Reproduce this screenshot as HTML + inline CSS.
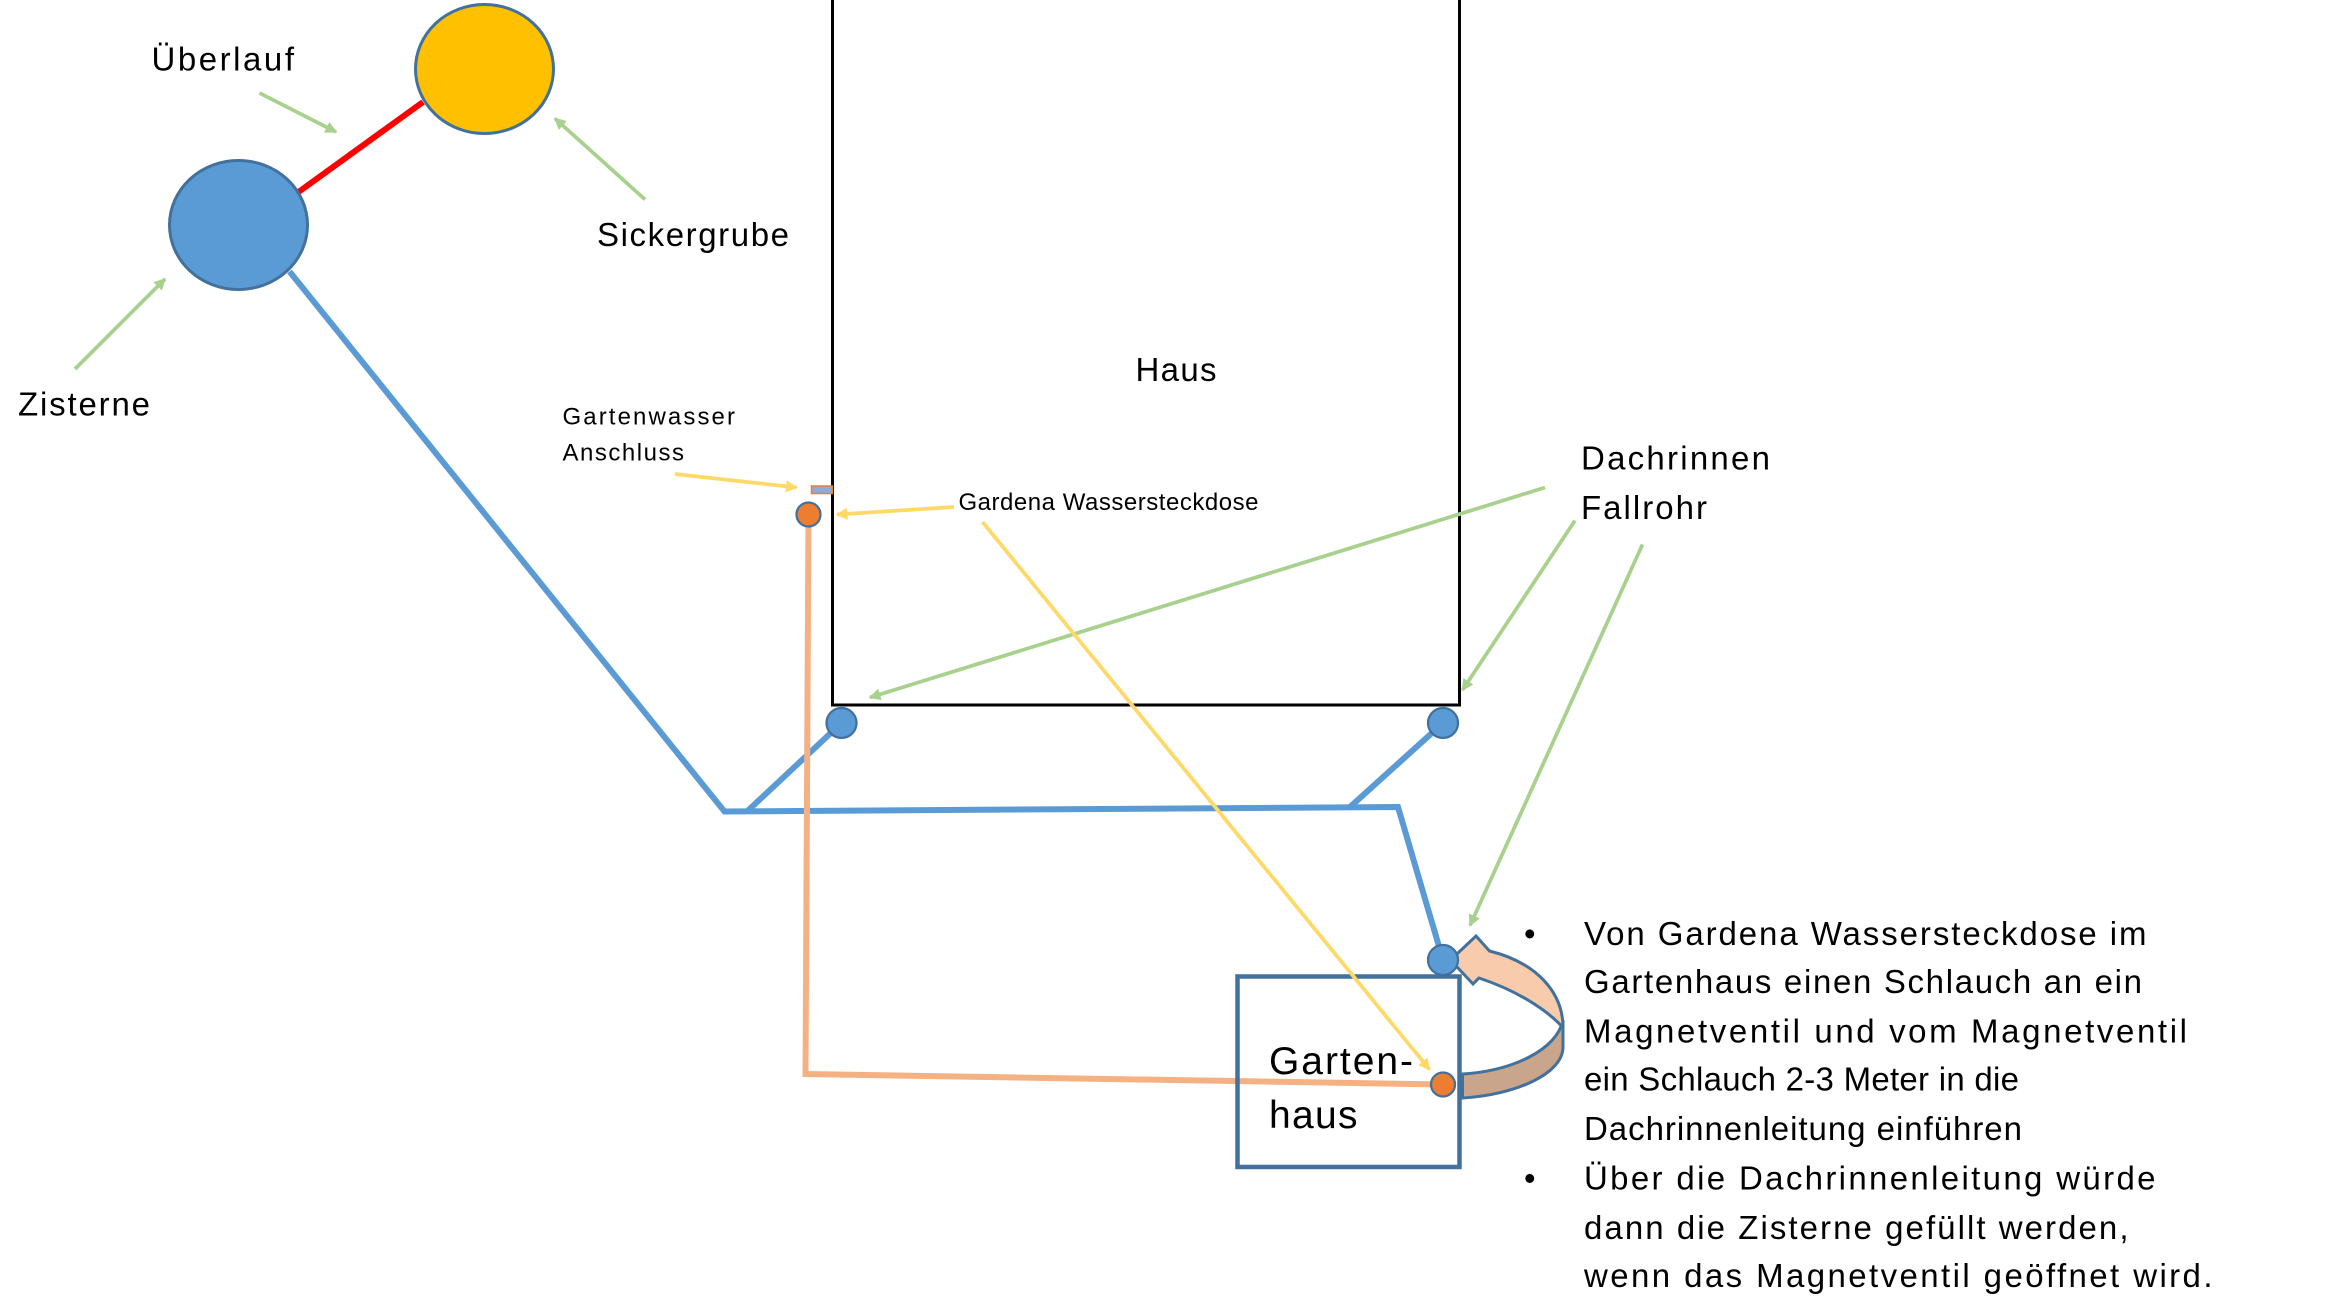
<!DOCTYPE html>
<html><head><meta charset="utf-8"><style>
html,body{margin:0;padding:0;background:#fff;}
svg{display:block;}
text{font-family:"Liberation Sans","DejaVu Sans",sans-serif;fill:#000;}
</style></head><body>
<svg width="2331" height="1309" viewBox="0 0 1554 872.67" preserveAspectRatio="none" xmlns="http://www.w3.org/2000/svg">
<defs>
<marker id="ag" markerWidth="8" markerHeight="8" refX="7" refY="4" orient="auto" markerUnits="userSpaceOnUse"><path d="M0,0 L8,4 L0,8 z" fill="#A9D18E"/></marker>
<marker id="ay" markerWidth="8" markerHeight="8" refX="7" refY="4" orient="auto" markerUnits="userSpaceOnUse"><path d="M0,0 L8,4 L0,8 z" fill="#FFD966"/></marker>
</defs>
<rect x="555" y="-5" width="418" height="475" fill="none" stroke="#000" stroke-width="2"/>
<text x="757" y="254" font-size="22" textLength="54">Haus</text>
<line x1="199" y1="128" x2="282" y2="68" stroke="#FF0000" stroke-width="4"/>
<ellipse cx="323" cy="46" rx="46" ry="43" fill="#FFC000" stroke="#41719C" stroke-width="2"/>
<ellipse cx="159" cy="150" rx="46" ry="43" fill="#5B9BD5" stroke="#41719C" stroke-width="2"/>
<g stroke="#5B9BD5" stroke-width="4" fill="none">
<polyline points="193,181 483,541 932,538 962,640"/>
<line x1="498" y1="541" x2="561" y2="482"/>
<line x1="900" y1="538" x2="962" y2="482"/>
</g>
<polyline points="539,343 537,716 962,723" fill="none" stroke="#F4B183" stroke-width="4"/>
<circle cx="561" cy="482" r="10" fill="#5B9BD5" stroke="#41719C" stroke-width="1.5"/>
<circle cx="962" cy="482" r="10" fill="#5B9BD5" stroke="#41719C" stroke-width="1.5"/>
<rect x="825" y="651" width="148" height="127" fill="none" stroke="#41719C" stroke-width="3"/>
<path d="M1042,680 L1042,698 C1042,716 1010,730 975,732 L975,716 C1008,714 1038,700 1042,680 Z" fill="#C9A58C" stroke="#41719C" stroke-width="2"/>
<path d="M967,640 L984,624 L993,634 C1025,642 1042,662 1042,685 C1030,672 1010,660 986,652 L982,656 Z" fill="#F8CBAD" stroke="#41719C" stroke-width="2"/>
<circle cx="962" cy="640" r="10" fill="#5B9BD5" stroke="#41719C" stroke-width="1.5"/>
<circle cx="539" cy="343" r="8" fill="#ED7D31" stroke="#41719C" stroke-width="1.5"/>
<circle cx="962" cy="723" r="8" fill="#ED7D31" stroke="#41719C" stroke-width="1.5"/>
<rect x="541" y="324" width="14" height="5" fill="#8FAADC" stroke="#ED7D31" stroke-width="1"/>
<g stroke="#A9D18E" stroke-width="2.5" marker-end="url(#ag)">
<line x1="173" y1="62" x2="224" y2="88"/>
<line x1="430" y1="133" x2="370" y2="79"/>
<line x1="50" y1="246" x2="110" y2="186"/>
<line x1="1030" y1="325" x2="580" y2="465"/>
<line x1="1050" y1="347" x2="975" y2="460"/>
<line x1="1095" y1="363" x2="980" y2="617"/>
</g>
<g stroke="#FFD966" stroke-width="2.5" marker-end="url(#ay)">
<line x1="450" y1="316" x2="531" y2="325"/>
<line x1="636" y1="338" x2="558" y2="343"/>
<line x1="655" y1="348" x2="953" y2="713"/>
</g>
<text x="101" y="47" font-size="22" textLength="95">Überlauf</text>
<text x="398" y="164" font-size="22" textLength="128">Sickergrube</text>
<text x="12" y="277" font-size="22" textLength="88">Zisterne</text>
<text x="375" y="283" font-size="16" textLength="115">Gartenwasser</text>
<text x="375" y="307" font-size="16" textLength="81">Anschluss</text>
<text x="639" y="340" font-size="16" textLength="200">Gardena Wassersteckdose</text>
<text x="1054" y="313" font-size="22" textLength="126">Dachrinnen</text>
<text x="1054" y="346" font-size="22" textLength="84">Fallrohr</text>
<text x="846" y="716" font-size="26" textLength="96">Garten-</text>
<text x="846" y="752" font-size="26" textLength="59">haus</text>
<g font-size="22">
<text x="1016" y="630">•</text>
<text x="1056" y="630" textLength="375">Von Gardena Wassersteckdose im</text>
<text x="1056" y="662" textLength="372">Gartenhaus einen Schlauch an ein</text>
<text x="1056" y="695" textLength="402">Magnetventil und vom Magnetventil</text>
<text x="1056" y="727" textLength="290">ein Schlauch 2-3 Meter in die</text>
<text x="1056" y="760" textLength="292">Dachrinnenleitung einführen</text>
<text x="1016" y="793">•</text>
<text x="1056" y="793" textLength="381">Über die Dachrinnenleitung würde</text>
<text x="1056" y="826" textLength="363">dann die Zisterne gefüllt werden,</text>
<text x="1056" y="858" textLength="419">wenn das Magnetventil geöffnet wird.</text>
</g>
</svg>
</body></html>
